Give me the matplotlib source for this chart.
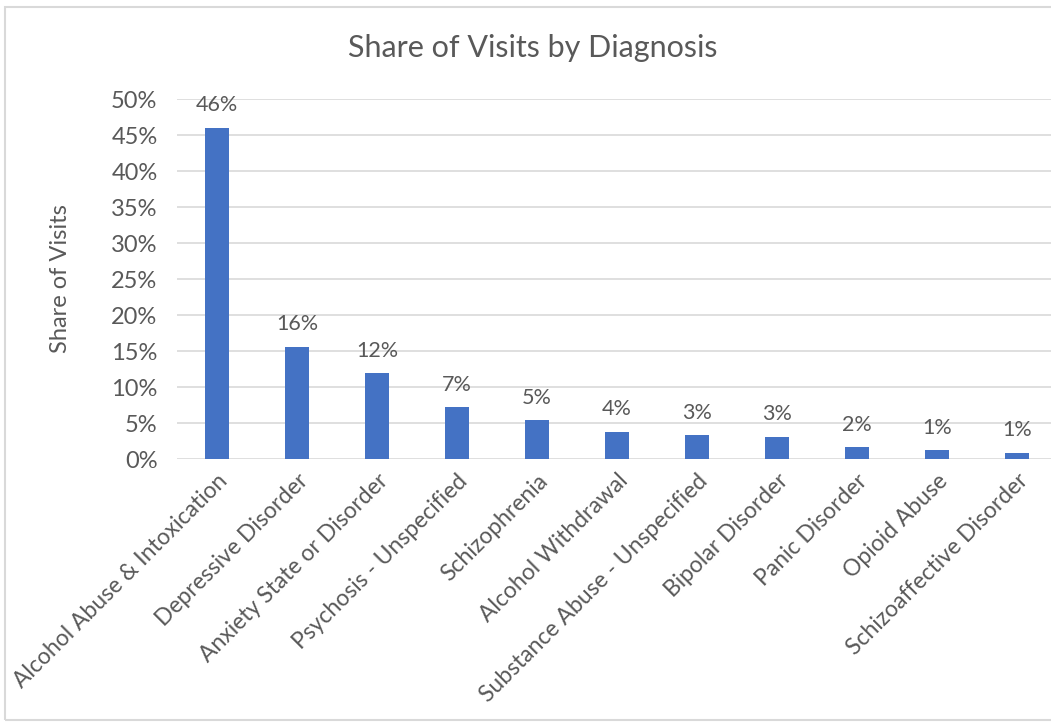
import matplotlib.pyplot as plt
from matplotlib.patches import Rectangle
from matplotlib.ticker import PercentFormatter

# share of visits per diagnosis (fraction)
diagnoses = [
    "Alcohol Abuse & Intoxication",
    "Depressive Disorder",
    "Anxiety State or Disorder",
    "Psychosis - Unspecified",
    "Schizophrenia",
    "Alcohol Withdrawal",
    "Substance Abuse - Unspecified",
    "Bipolar Disorder",
    "Panic Disorder",
    "Opioid Abuse",
    "Schizoaffective Disorder",
]
share = [0.460, 0.156, 0.119, 0.072, 0.054, 0.038, 0.033, 0.031, 0.016, 0.012, 0.009]
yticks = [0, 0.05, 0.10, 0.15, 0.20, 0.25, 0.30, 0.35, 0.40, 0.45, 0.50]

plt.rcParams['font.family'] = ['Lato', 'DejaVu Sans']
grey = '#595959'
blue = '#4472C4'
grid = '#D9D9D9'

W, H = 1051, 725
fig = plt.figure(figsize=(W / 100, H / 100), dpi=100)

# light chart border
fig.patches.append(Rectangle((5 / W, 5 / H), 1.1, 1 - 12 / H, transform=fig.transFigure,
                             fill=False, edgecolor=grid, linewidth=1.5))

ax = fig.add_axes([177 / W, 1 - 459 / H, 880 / W, 360 / H])
x = list(range(len(diagnoses)))
ax.bar(x, share, width=0.3, color=blue, zorder=3)

for xi, v in zip(x, share):
    ax.annotate(f"{round(v * 100):.0f}%", (xi, v), xytext=(0, 9),
                textcoords='offset points', ha='center', va='bottom',
                fontsize=15.5, color=grey)

ax.set_xlim(-0.5, len(diagnoses) - 0.5)
ax.set_ylim(0, 0.5)
ax.set_yticks(yticks)
ax.yaxis.set_major_formatter(PercentFormatter(1.0, decimals=0))
ax.grid(axis='y', color=grid, linewidth=1.2, zorder=0)
for s in ax.spines.values():
    s.set_visible(False)
ax.tick_params(axis='y', length=0, pad=14, labelsize=17, labelcolor=grey)
ax.tick_params(axis='x', length=0, pad=8)
ax.set_xticks(x)
ax.set_xticklabels(diagnoses, rotation=45, ha='right', rotation_mode='anchor',
                   fontsize=16.5, color=grey)
ax.set_ylabel("Share of Visits", fontsize=17, color=grey, labelpad=29)

fig.text(533 / W, 1 - 48 / H, "Share of Visits by Diagnosis", ha='center', va='center',
         fontsize=22, color=grey)

fig.savefig("out.png", dpi=100)
